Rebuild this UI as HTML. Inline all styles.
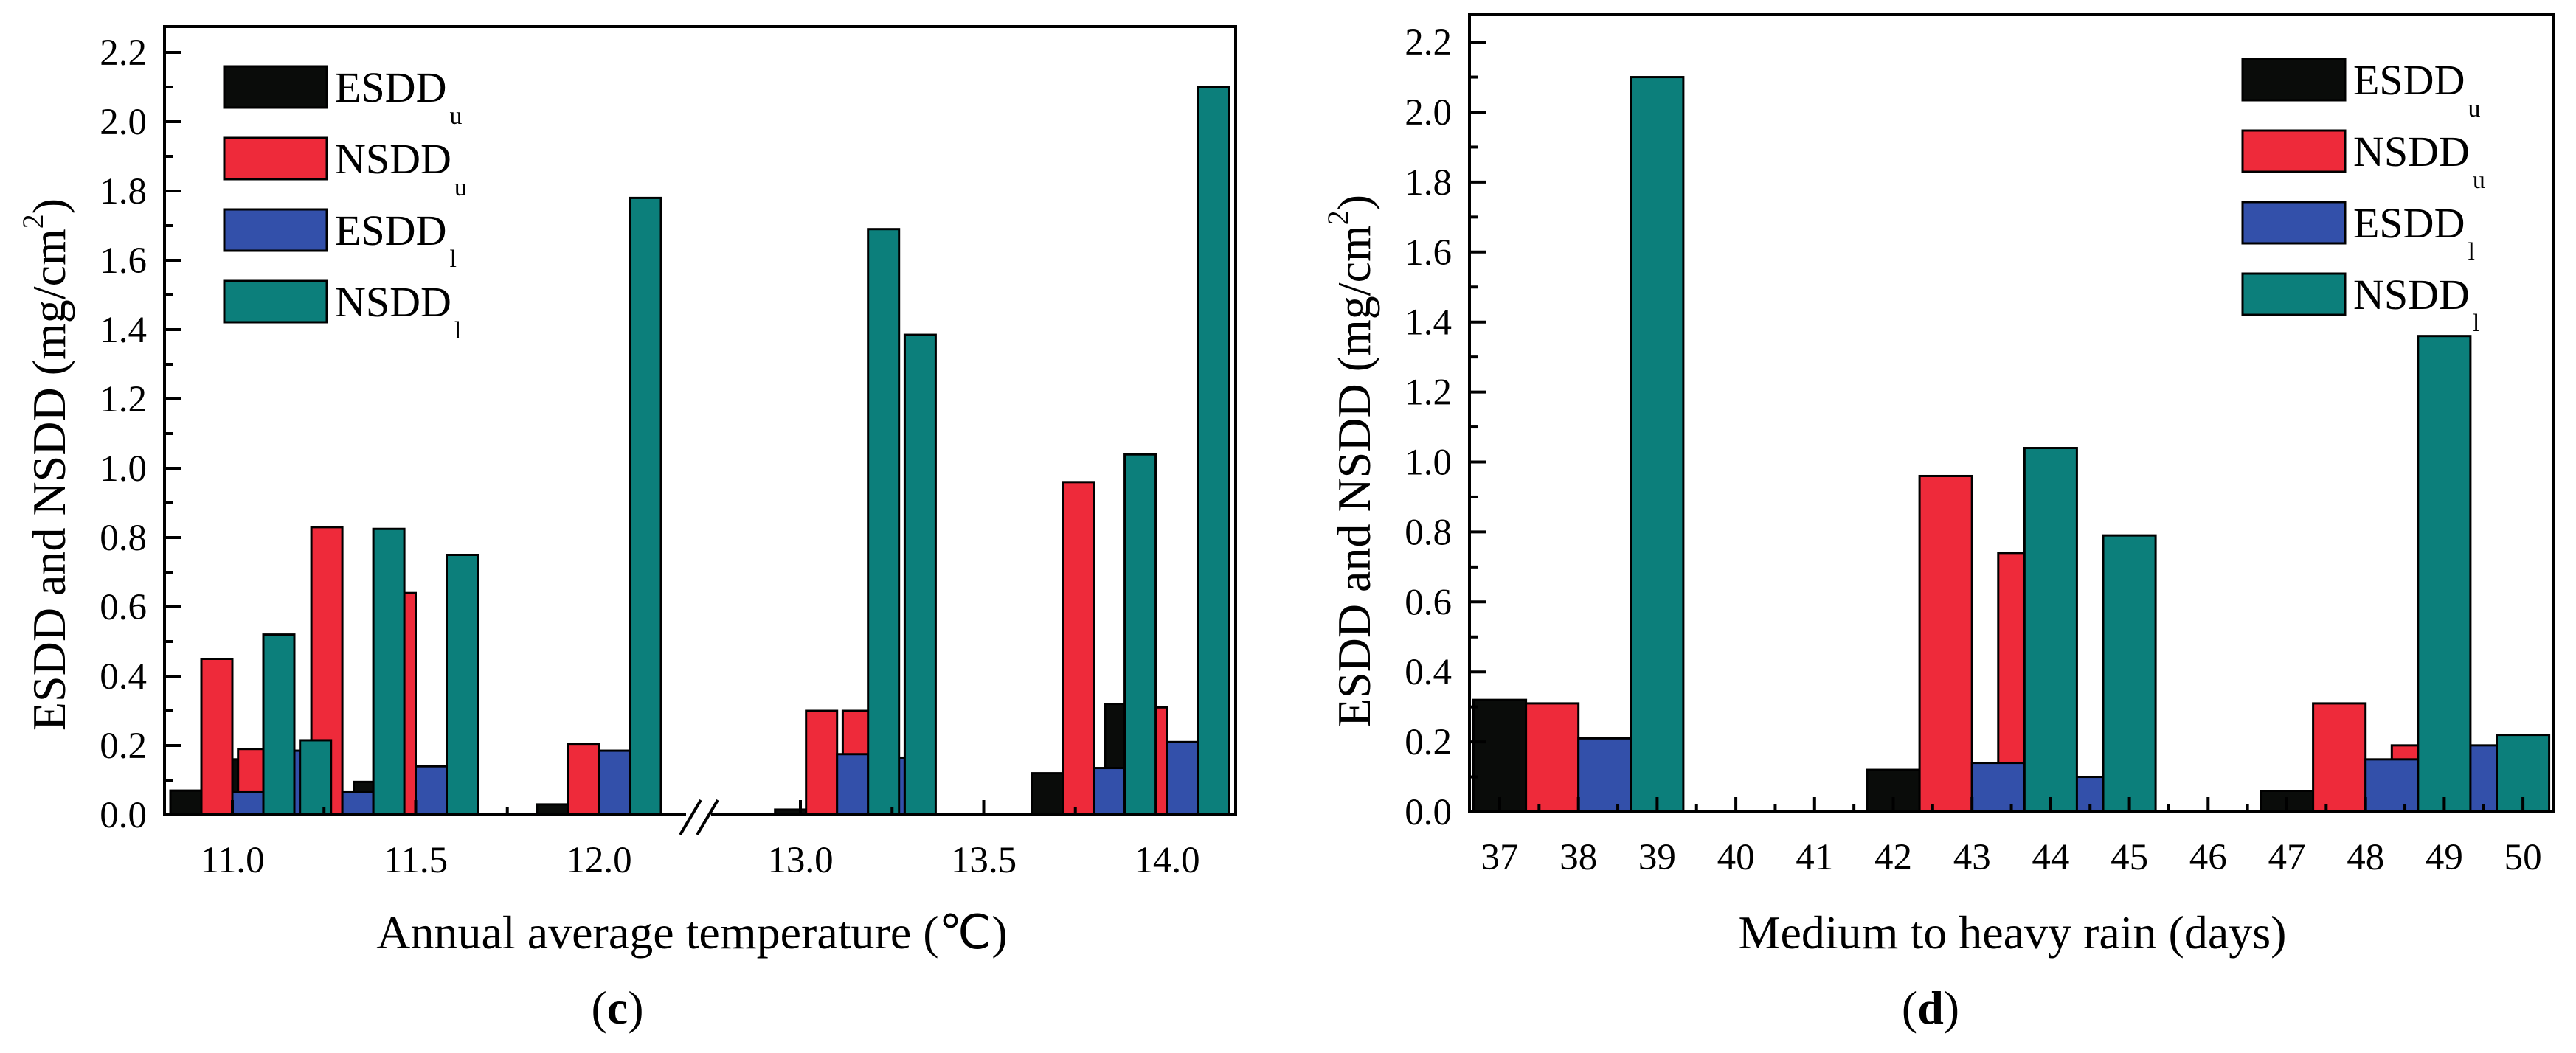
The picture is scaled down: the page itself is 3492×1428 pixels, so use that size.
<!DOCTYPE html>
<html><head><meta charset="utf-8"><style>
html,body{margin:0;padding:0;background:#fff;}
svg{display:block;font-family:"Liberation Serif",serif;}
</style></head><body>
<svg id="chart" width="3492" height="1428" viewBox="0 0 3492 1428" xmlns="http://www.w3.org/2000/svg">
<rect x="0" y="0" width="3492" height="1428" fill="#fff"/>
<g id="left"></g>
<g id="right"></g>
</svg>
<script>
// ---- Panel (c) data ----
const tempX = [11.0, 11.1, 11.3, 11.5, 12.0, 13.1, 13.2, 13.8, 14.0];
const tempESDDu = [0.07, 0.16, 0.0, 0.095, 0.03, 0.015, 0.0, 0.12, 0.32];
const tempNSDDu = [0.45, 0.19, 0.83, 0.64, 0.205, 0.30, 0.30, 0.96, 0.31];
const tempESDDl = [0.065, 0.185, 0.065, 0.14, 0.185, 0.175, 0.165, 0.135, 0.21];
const tempNSDDl = [0.52, 0.215, 0.825, 0.75, 1.78, 1.69, 1.385, 1.04, 2.10];
const tempTicks = ["11.0", "11.5", "12.0", "13.0", "13.5", "14.0"];
const tempMinor = [11.25, 11.75, 13.25, 13.75];
// ---- Panel (d) data ----
const rainX = [37, 38, 39, 40, 41, 42, 43, 44, 45, 46, 47, 48, 49, 50];
const rainESDDu = [0, 0.32, 0, 0, 0, 0, 0.12, 0, 0, 0, 0, 0.06, 0, 0];
const rainNSDDu = [0, 0.31, 0, 0, 0, 0, 0.96, 0.74, 0, 0, 0, 0.31, 0.19, 0];
const rainESDDl = [0, 0.21, 0, 0, 0, 0, 0.14, 0.10, 0, 0, 0, 0.15, 0.19, 0];
const rainNSDDl = [0, 2.10, 0, 0, 0, 0, 1.04, 0.79, 0, 0, 0, 1.36, 0.22, 0];
const yTicks = ["0.0", "0.2", "0.4", "0.6", "0.8", "1.0", "1.2", "1.4", "1.6", "1.8", "2.0", "2.2"];
const seriesNames = ["ESDD", "NSDD", "ESDD", "NSDD"];
const seriesSubs = ["u", "u", "l", "l"];
const colors = ["#0a0c0a", "#ee2a3a", "#3350aa", "#0c7f7b"];

const NS = "http://www.w3.org/2000/svg";
function mk(parent, tag, attrs, text) {
  const e = document.createElementNS(NS, tag);
  for (const k in attrs) e.setAttribute(k, attrs[k]);
  if (text !== undefined) e.textContent = text;
  parent.appendChild(e);
  return e;
}

function drawPanel(g, P) {
  const yS = v => P.y0 - v * P.yk;
  const series = P.series;
  for (let s = 0; s < 4; s++) {
    for (let i = 0; i < P.xs.length; i++) {
      const v = series[s][i];
      if (!(v > 0)) continue;
      const cx = P.xS(P.xs[i]) + (s - 1.5) * P.bw;
      const r = mk(g, "rect", {x: cx - P.bw / 2, y: yS(v), width: P.bw, height: P.y0 - yS(v),
        fill: colors[s], stroke: "#000", "stroke-width": 3});
      
      
    }
  }
  const fr = mk(g, "rect", {x: P.fx0, y: P.fy0, width: P.fx1 - P.fx0, height: P.y0 - P.fy0, fill: "none", stroke: "#000", "stroke-width": 4});
  
  
  for (let i = 0; i < yTicks.length; i++) {
    const v = parseFloat(yTicks[i]);
    const y = yS(v);
    mk(g, "line", {x1: P.fx0, x2: P.fx0 + 22, y1: y, y2: y, stroke: "#000", "stroke-width": 4});
    if (i < yTicks.length - 1) {
      const ym = yS(v + 0.1);
      mk(g, "line", {x1: P.fx0, x2: P.fx0 + 12, y1: ym, y2: ym, stroke: "#000", "stroke-width": 4});
    }
    const t = mk(g, "text", {x: P.fx0 - 24, y: y + 17, "font-size": 51, "text-anchor": "end"}, yTicks[i]);
    
    
  }
  P.xTicks.forEach(lbl => {
    const x = P.xS(parseFloat(lbl));
    mk(g, "line", {x1: x, x2: x, y1: P.y0, y2: P.y0 - 20, stroke: "#000", "stroke-width": 4});
    const t = mk(g, "text", {x: x, y: P.y0 + 78, "font-size": 51, "text-anchor": "middle"}, lbl);
    
    
  });
  P.xMinor.forEach(v => {
    const x = P.xS(v);
    mk(g, "line", {x1: x, x2: x, y1: P.y0, y2: P.y0 - 11, stroke: "#000", "stroke-width": 4});
  });
  const yt = mk(g, "text", {transform: "translate(" + P.ytx + "," + P.yty + ") rotate(-90)", "font-size": 64, "text-anchor": "middle"});
  
  
  mk(yt, "tspan", {}, "ESDD and NSDD (mg/cm");
  mk(yt, "tspan", {"font-size": 40, dy: -30}, "2");
  mk(yt, "tspan", {dy: 30}, ")");
  const xt = mk(g, "text", {x: P.xtx, y: 1286, "font-size": 64, "text-anchor": "middle"}, P.xTitle);
  
  
  const pl = mk(g, "text", {x: P.plx, y: 1388, "font-size": 64, "text-anchor": "middle"});
  
  
  mk(pl, "tspan", {}, "(");
  mk(pl, "tspan", {"font-weight": "bold"}, P.letter);
  mk(pl, "tspan", {}, ")");
  for (let s = 0; s < 4; s++) {
    const y = P.lgy + s * 97;
    const lg = mk(g, "g", {});
    
    
    mk(lg, "rect", {x: P.lgx, y: y, width: 139, height: 56, fill: colors[s], stroke: "#000", "stroke-width": 3});
    const t = mk(lg, "text", {x: P.lgx + 150, y: y + 48, "font-size": 58});
    mk(t, "tspan", {}, seriesNames[s]);
    mk(t, "tspan", {"font-size": 34, dy: 30, dx: 4}, seriesSubs[s]);
  }
}

const left = document.getElementById("left");
drawPanel(left, {
  xs: tempX, series: [tempESDDu, tempNSDDu, tempESDDl, tempNSDDl],
  xS: v => v < 12.5 ? 315 + (v - 11) * 497 : 1085 + (v - 13) * 497,
  bw: 42, y0: 1105, yk: 470, fx0: 223, fx1: 1675, fy0: 36,
  xTicks: tempTicks, xMinor: tempMinor,
  ytx: 88, yty: 630, xtx: 938, plx: 837, letter: "c",
  xTitle: "Annual average temperature (\u2103)", lgx: 304, lgy: 90
});
(function(){
  const br = mk(left, "g", {});
  
  
  mk(br, "rect", {x: 930, y: 1098, width: 34, height: 14, fill: "#fff"});
  mk(br, "line", {x1: 922, y1: 1132, x2: 950, y2: 1085, stroke: "#000", "stroke-width": 4});
  mk(br, "line", {x1: 945, y1: 1132, x2: 973, y2: 1085, stroke: "#000", "stroke-width": 4});
})();

const right = document.getElementById("right");
drawPanel(right, {
  xs: rainX, series: [rainESDDu, rainNSDDu, rainESDDl, rainNSDDl],
  xS: v => 2033 + (v - 37) * 106.7,
  bw: 71.1, y0: 1101, yk: 474.5, fx0: 1992, fx1: 3462, fy0: 20,
  xTicks: rainX.map(String), xMinor: rainX.slice(0, -1).map(v => v + 0.5),
  ytx: 1857, yty: 625, xtx: 2728, plx: 2617, letter: "d",
  xTitle: "Medium to heavy rain (days)", lgx: 3040, lgy: 80
});
</script>
</body></html>
